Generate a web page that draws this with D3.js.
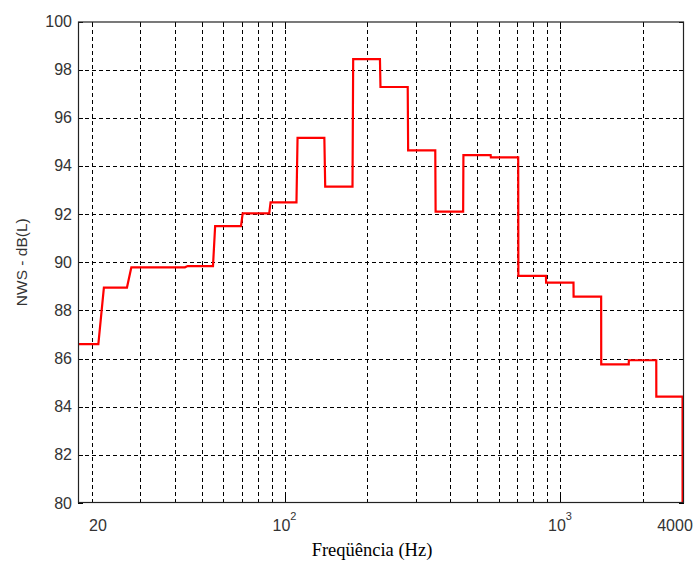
<!DOCTYPE html>
<html>
<head>
<meta charset="utf-8">
<script src="https://cdn.jsdelivr.net/npm/d3@7"></script>
<style>
  html, body { margin: 0; padding: 0; background: #fff; }
  svg { display: block; }
</style>
</head>
<body>
<div id="chart"></div>
<script>
// One-third-octave band spectrum, level per band (dB(L))
const bandCenters = [20, 25, 31.5, 40, 50, 63, 80, 100, 125, 160, 200, 250, 315, 400, 500, 630, 800, 1000, 1250, 1600, 2000, 2500];
const bandEdges = [17.8, 22.1, 27.8, 35.5, 44.5, 56, 70.5, 89, 111.5, 140.5, 177.5, 223, 281, 353.5, 446, 561, 706, 890, 1120, 1411, 1777, 2236, 2785];
const bandLevels = [86.6, 88.95, 89.79, 89.79, 89.84, 91.5, 92.03, 92.49, 95.17, 93.14, 98.44, 97.28, 94.65, 92.1, 94.45, 94.36, 89.43, 89.15, 88.57, 85.76, 85.93, 84.42];

// Axis settings
const xDomain = [17.8, 2818];
const yDomain = [80, 100];
const yTicks = [80, 82, 84, 86, 88, 90, 92, 94, 96, 98, 100];
const xGridFreqs = [20, 30, 40, 50, 60, 70, 80, 90, 100, 200, 300, 400, 500, 600, 700, 800, 900, 1000, 2000];
const xLabelFreqs = [20, 100, 1000, 4000];
const xLabelBase = ["20", "10", "10", "4000"];
const xLabelExp = ["", "2", "3", ""];
const xTitle = "Freqüência (Hz)";
const yTitle = "NWS - dB(L)";

const W = 698, H = 562;
const plot = { left: 78, right: 684, top: 21.5, bottom: 503 };
const resolutionHz = 1; // width of each band transition in the sampled spectrum

const svg = d3.select("#chart").append("svg").attr("width", W).attr("height", H);

const x = d3.scaleLog().domain(xDomain).range([plot.left, plot.right]);
const y = d3.scaleLinear().domain(yDomain).range([plot.bottom, plot.top]);

// Grid
const grid = svg.append("g").attr("stroke", "#000").attr("stroke-width", 1).attr("stroke-dasharray", "4,3").attr("shape-rendering", "crispEdges");
grid.selectAll("line.h").data(yTicks.filter(v => v > yDomain[0] && v < yDomain[1])).enter().append("line")
  .attr("x1", plot.left).attr("x2", plot.right)
  .attr("y1", d => Math.round(y(d)) + 0.5).attr("y2", d => Math.round(y(d)) + 0.5);
grid.selectAll("line.v").data(xGridFreqs).enter().append("line")
  .attr("y1", plot.bottom).attr("y2", plot.top)
  .attr("x1", d => Math.round(x(d)) + 0.5).attr("x2", d => Math.round(x(d)) + 0.5);

// Tick marks (inside, on all sides)
const tickLen = 5;
const ticks = svg.append("g").attr("stroke", "#000").attr("stroke-width", 1).attr("shape-rendering", "crispEdges");
yTicks.forEach(v => {
  const yy = Math.round(y(v)) + 0.5;
  ticks.append("line").attr("x1", plot.left).attr("x2", plot.left + tickLen).attr("y1", yy).attr("y2", yy);
  ticks.append("line").attr("x1", plot.right - tickLen).attr("x2", plot.right).attr("y1", yy).attr("y2", yy);
});
xGridFreqs.forEach(f => {
  const xx = Math.round(x(f)) + 0.5;
  const len = (f === 100 || f === 1000) ? tickLen + 2 : tickLen - 1;
  ticks.append("line").attr("x1", xx).attr("x2", xx).attr("y1", plot.bottom).attr("y2", plot.bottom - len);
  ticks.append("line").attr("x1", xx).attr("x2", xx).attr("y1", plot.top).attr("y2", plot.top + len);
});

// Stepped spectrum line
const pts = [[bandEdges[0], bandLevels[0]]];
for (let i = 0; i < bandLevels.length; i++) {
  const hi = bandEdges[i + 1];
  const next = i + 1 < bandLevels.length ? bandLevels[i + 1] : yDomain[0];
  pts.push([hi - resolutionHz, bandLevels[i]]);
  pts.push([hi, next]);
}
svg.append("clipPath").attr("id", "clip").append("rect")
  .attr("x", plot.left).attr("y", plot.top - 2)
  .attr("width", plot.right - plot.left).attr("height", plot.bottom - plot.top + 2);
svg.append("path")
  .datum(pts)
  .attr("clip-path", "url(#clip)")
  .attr("fill", "none")
  .attr("stroke", "#ff0000")
  .attr("stroke-width", 2.2)
  .attr("stroke-linejoin", "miter")
  .attr("d", d3.line().x(d => x(d[0])).y(d => y(d[1])));

// Frame
svg.append("rect")
  .attr("x", plot.left + 0.5).attr("y", plot.top + 0.5)
  .attr("width", plot.right - plot.left - 1).attr("height", plot.bottom - plot.top - 1)
  .attr("fill", "none").attr("stroke", "#222").attr("stroke-width", 1.2);

// Y tick labels
const labelFont = "'Liberation Sans', Arial, sans-serif";
svg.append("g").selectAll("text").data(yTicks).enter().append("text")
  .attr("x", plot.left - 6)
  .attr("y", d => y(d) + 5.5)
  .attr("text-anchor", "end")
  .attr("font-family", labelFont).attr("font-size", 16).attr("fill", "#333")
  .text(d => d);

// X tick labels (power-of-ten labels use a superscript exponent)
const xl = svg.append("g");
xLabelFreqs.forEach((f, i) => {
  const cx = Math.min(x(f), plot.right);
  const t = xl.append("text")
    .attr("y", 531)
    .attr("font-family", labelFont).attr("font-size", 16).attr("fill", "#333");
  t.append("tspan").text(xLabelBase[i]);
  if (xLabelExp[i]) {
    t.append("tspan").attr("font-size", 11).attr("dy", -11).text(xLabelExp[i]);
    t.attr("x", cx).attr("text-anchor", "middle");
  } else if (i === 0) {
    t.attr("x", cx + 6).attr("text-anchor", "middle");
  } else {
    t.attr("x", cx - 9).attr("text-anchor", "middle");
  }
});

// Axis titles
svg.append("text")
  .attr("x", 372)
  .attr("y", 556)
  .attr("text-anchor", "middle")
  .attr("font-family", "'Liberation Serif', 'Times New Roman', serif")
  .attr("font-size", 18.5).attr("fill", "#000")
  .text(xTitle);

svg.append("text")
  .attr("transform", `translate(27,${(plot.top + plot.bottom) / 2}) rotate(-90)`)
  .attr("text-anchor", "middle")
  .attr("font-family", labelFont).attr("font-size", 15.5).attr("fill", "#333")
  .text(yTitle);
</script>
</body>
</html>
